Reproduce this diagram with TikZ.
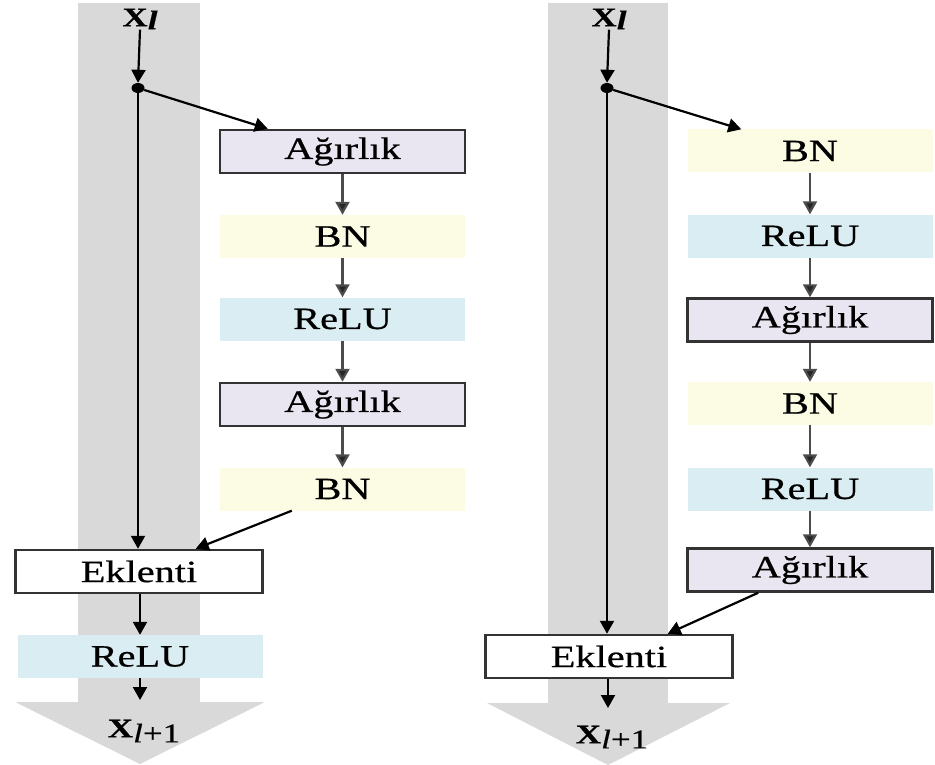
\documentclass[tikz,border=0pt]{standalone}
\usepackage{fontspec}
\setmainfont{Liberation Serif}[FakeStretch=1.3,FakeBold=0.6]
\usetikzlibrary{arrows.meta,shapes.geometric}
\definecolor{bandgray}{HTML}{D9D9D9}
\definecolor{bnyellow}{HTML}{FCFCE4}
\definecolor{relublue}{HTML}{DAEDF2}
\definecolor{wlav}{HTML}{EAE6F1}
\definecolor{edgegray}{HTML}{333333}
\tikzset{
  blk/.style={minimum width=245pt, minimum height=43pt, inner sep=0pt, font=\fontsize{31}{32}\selectfont},
  wbox/.style={blk, fill=wlav, draw=edgegray, line width=2.5pt},
  bnbox/.style={blk, fill=bnyellow},
  relubox/.style={blk, fill=relublue},
  ekbox/.style={blk, minimum width=247pt, fill=white, draw=edgegray, line width=2.5pt},
  lbl/.style={inner sep=0pt, font=\fontsize{27}{28}\selectfont},
  dotnode/.style={ellipse, fill=black, minimum width=13pt, minimum height=10pt, inner sep=0pt},
  arr/.style={line width=2.2pt, -{Triangle[length=13pt,width=14pt]}},
  garr/.style={arr, draw=black!70, -{Triangle[length=13pt,width=14pt,fill=black!85]}},
}
\begin{document}
\begin{tikzpicture}[x=1pt,y=-1pt]
\useasboundingbox (0,0) rectangle (935,765);
% gray bands with arrow heads
\fill[bandgray] (78,3) rectangle (200,702);
\fill[bandgray] (15,702) -- (265,702) -- (140,764) -- cycle;
\fill[bandgray] (548,3) rectangle (668,703);
\fill[bandgray] (487,703) -- (730,703) -- (608,765) -- cycle;

% ---------- left ----------
\node[lbl] (xl1) at (140,19) {\textbf{X}\raisebox{-3pt}{\textbf{\textit{l}}}};
\node[dotnode] (dot1) at (138,88) {};
\node[wbox] (w1) at (342.5,151.5) {Ağırlık};
\node[bnbox] (bn1) at (342.5,236.5) {BN};
\node[relubox] (r1) at (342.5,319) {ReLU};
\node[wbox] (w2) at (342.5,404.5) {Ağırlık};
\node[bnbox] (bn2) at (342.5,489) {BN};
\node[ekbox] (ek1) at (139,571.5) {Eklenti};
\node[relubox] (r2) at (140,656.5) {ReLU};
\node[lbl] (xo1) at (144,731) {\textbf{X}\raisebox{-5pt}{\textit{l}+1}};
\coordinate (end1) at (140,700);

\draw[arr] (xl1.south) -- (dot1.north);
\draw[arr] (dot1) -- ([xshift=49pt]w1.north west);
\draw[garr] (w1) -- (bn1);
\draw[garr] (bn1) -- (r1);
\draw[garr] (r1) -- (w2);
\draw[garr] (w2) -- (bn2);
\draw[arr] ([xshift=72pt]bn2.south west) -- ([xshift=-68pt]ek1.north east);
\draw[arr] (dot1) -- (dot1 |- ek1.north);
\draw[arr] (ek1.south -| r2) -- (r2.north);
\draw[arr] (r2.south) -- (end1);

% ---------- right ----------
\node[lbl] (xl2) at (609,19) {\textbf{X}\raisebox{-3pt}{\textbf{\textit{l}}}};
\node[dotnode] (dot2) at (607,88) {};
\node[bnbox] (bn3) at (810,151) {BN};
\node[relubox] (r3) at (810,236) {ReLU};
\node[wbox] (w3) at (810,320) {Ağırlık};
\node[bnbox] (bn4) at (810,403.5) {BN};
\node[relubox] (r4) at (810,489) {ReLU};
\node[wbox] (w4) at (810,570) {Ağırlık};
\node[ekbox] (ek2) at (609,656.5) {Eklenti};
\node[lbl] (xo2) at (612,737) {\textbf{X}\raisebox{-5pt}{\textit{l}+1}};
\coordinate (end2) at (608,708);

\draw[arr] (xl2.south) -- (dot2.north);
\draw[arr] (dot2) -- ([xshift=54pt]bn3.north west);
\draw[garr] (bn3) -- (r3);
\draw[garr] (r3) -- (w3);
\draw[garr] (w3) -- (bn4);
\draw[garr] (bn4) -- (r4);
\draw[garr] (r4) -- (w4);
\draw[arr] ([xshift=72pt]w4.south west) -- ([xshift=-66pt]ek2.north east);
\draw[arr] (dot2) -- (dot2 |- ek2.north);
\draw[arr] (ek2.south -| end2) -- (end2);
\end{tikzpicture}
\end{document}
